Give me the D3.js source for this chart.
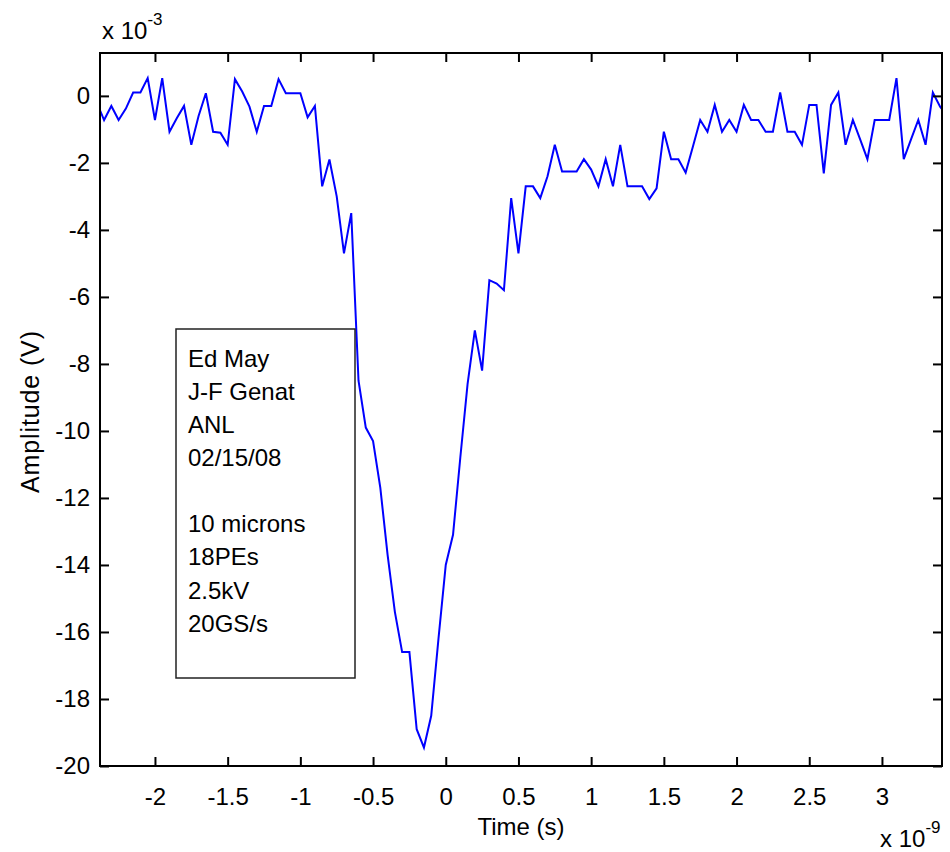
<!DOCTYPE html>
<meta charset="utf-8">
<body style="margin:0;background:#fff">
<script src="https://cdn.jsdelivr.net/npm/d3@7"></script>
<script>

    var width = 950,
        height = 852;

    // sample times (ns) and amplitudes (mV)
    var times = [-2.40, -2.35, -2.30, -2.25, -2.20, -2.15, -2.10, -2.05, -2.00, -1.95,
        -1.90, -1.85, -1.80, -1.75, -1.70, -1.65, -1.60, -1.55, -1.50, -1.45,
        -1.40, -1.35, -1.30, -1.25, -1.20, -1.15, -1.10, -1.05, -1.00, -0.95,
        -0.90, -0.85, -0.80, -0.75, -0.70, -0.65, -0.60, -0.55, -0.50, -0.45,
        -0.40, -0.35, -0.30, -0.25, -0.20, -0.15, -0.10, -0.05, 0.00, 0.05,
        0.10, 0.15, 0.20, 0.25, 0.30, 0.35, 0.40, 0.45, 0.50, 0.55,
        0.60, 0.65, 0.70, 0.75, 0.80, 0.85, 0.90, 0.95, 1.00, 1.05,
        1.10, 1.15, 1.20, 1.25, 1.30, 1.35, 1.40, 1.45, 1.50, 1.55,
        1.60, 1.65, 1.70, 1.75, 1.80, 1.85, 1.90, 1.95, 2.00, 2.05,
        2.10, 2.15, 2.20, 2.25, 2.30, 2.35, 2.40, 2.45, 2.50, 2.55,
        2.60, 2.65, 2.70, 2.75, 2.80, 2.85, 2.90, 2.95, 3.00, 3.05,
        3.10, 3.15, 3.20, 3.25, 3.30, 3.35, 3.40, 3.45];

    var amplitude = [-0.2, -0.72, -0.3, -0.72, -0.38, 0.1, 0.1, 0.53, -0.72, 0.53,
        -1.07, -0.67, -0.3, -1.46, -0.6, 0.08, -1.07, -1.1, -1.46, 0.5,
        0.13, -0.32, -1.07, -0.3, -0.3, 0.5, 0.08, 0.08, 0.08, -0.64,
        -0.3, -2.7, -1.9, -3.0, -4.7, -3.5, -8.5, -9.9, -10.3, -11.7,
        -13.7, -15.4, -16.6, -16.6, -18.9, -19.45, -18.5, -16.2, -14.0, -13.1,
        -10.8, -8.6, -7.0, -8.2, -5.5, -5.6, -5.8, -3.05, -4.7, -2.7,
        -2.7, -3.05, -2.4, -1.46, -2.26, -2.26, -2.26, -1.89, -2.2, -2.7,
        -1.89, -2.7, -1.46, -2.7, -2.7, -2.7, -3.08, -2.76, -1.07, -1.89,
        -1.89, -2.29, -1.51, -0.72, -1.07, -0.27, -1.07, -0.72, -1.07, -0.27,
        -0.72, -0.72, -1.07, -1.07, 0.1, -1.07, -1.07, -1.46, -0.27, -0.27,
        -2.31, -0.27, 0.1, -1.46, -0.72, -1.3, -1.89, -0.72, -0.72, -0.72,
        0.53, -1.89, -1.3, -0.72, -1.46, 0.1, -0.32, -0.6];

    var xTicks = [-2, -1.5, -1, -0.5, 0, 0.5, 1, 1.5, 2, 2.5, 3];
    var yTicks = [0, -2, -4, -6, -8, -10, -12, -14, -16, -18, -20];

    var noteLines = ["Ed May", "J-F Genat", "ANL", "02/15/08", "",
        "10 microns", "18PEs", "2.5kV", "20GS/s"];

    var font = "Arial, 'Liberation Sans', sans-serif";

    var plotLeft = 100, plotRight = 942, plotTop = 53, plotBottom = 766;

    var x = d3.scaleLinear().domain([-2.378, 3.413]).range([plotLeft, plotRight]);
    var y = d3.scaleLinear().domain([-20, 1.28]).range([plotBottom, plotTop]);

    var svg = d3.select("body").append("svg")
            .attr("width", width)
            .attr("height", height)
            .style("font-family", font);

    svg.append("defs").append("clipPath").attr("id", "plotclip")
        .append("rect")
        .attr("x", plotLeft).attr("y", plotTop)
        .attr("width", plotRight - plotLeft).attr("height", plotBottom - plotTop);

    // trace
    var line = d3.line()
            .x(function(d, i) { return x(times[i]); })
            .y(function(d) { return y(d); });

    svg.append("path")
        .datum(amplitude)
        .attr("clip-path", "url(#plotclip)")
        .attr("fill", "none")
        .attr("stroke", "#0000ff")
        .attr("stroke-width", 2)
        .attr("d", line);

    // axes, ticks pointing inwards on all four sides
    function styleAxis(g) {
        g.select(".domain").remove();
        g.selectAll(".tick line").attr("stroke", "#000").attr("stroke-width", 2);
        g.selectAll(".tick text")
            .attr("fill", "#000")
            .style("font-size", "24px")
            .style("font-family", font);
    }

    svg.append("g")
        .attr("transform", "translate(0," + plotBottom + ")")
        .call(d3.axisBottom(x).tickValues(xTicks).tickSizeInner(-9).tickSizeOuter(0)
            .tickPadding(22).tickFormat(String))
        .call(styleAxis);

    svg.append("g")
        .attr("transform", "translate(0," + plotTop + ")")
        .call(d3.axisTop(x).tickValues(xTicks).tickSizeInner(-9).tickSizeOuter(0)
            .tickFormat(""))
        .call(styleAxis);

    svg.append("g")
        .attr("transform", "translate(" + plotLeft + ",0)")
        .call(d3.axisLeft(y).tickValues(yTicks).tickSizeInner(-9).tickSizeOuter(0)
            .tickPadding(10).tickFormat(String))
        .call(styleAxis);

    svg.append("g")
        .attr("transform", "translate(" + plotRight + ",0)")
        .call(d3.axisRight(y).tickValues(yTicks).tickSizeInner(-9).tickSizeOuter(0)
            .tickFormat(""))
        .call(styleAxis);

    svg.append("rect")
        .attr("x", plotLeft).attr("y", plotTop)
        .attr("width", plotRight - plotLeft).attr("height", plotBottom - plotTop)
        .attr("fill", "none")
        .attr("stroke", "#000")
        .attr("stroke-width", 2);

    // axis labels
    svg.append("text")
        .attr("x", (plotLeft + plotRight) / 2)
        .attr("y", 835)
        .attr("text-anchor", "middle")
        .style("font-size", "24px")
        .text("Time (s)");

    svg.append("text")
        .attr("transform", "translate(39,412) rotate(-90)")
        .attr("text-anchor", "middle")
        .attr("textLength", 162)
        .style("font-size", "25px")
        .text("Amplitude (V)");

    // exponent labels
    function exponent(xPos, yPos, power) {
        var t = svg.append("text")
            .attr("x", xPos).attr("y", yPos)
            .style("font-size", "24px");
        t.append("tspan").text("x 10");
        t.append("tspan")
            .attr("dy", -14)
            .style("font-size", "17px")
            .text(power);
    }
    exponent(102, 39, "-3");
    exponent(880, 847, "-9");

    // note box
    svg.append("rect")
        .attr("x", 176).attr("y", 329)
        .attr("width", 179).attr("height", 349)
        .attr("fill", "#fff")
        .attr("stroke", "#222")
        .attr("stroke-width", 1.5);

    svg.append("g").selectAll("text")
        .data(noteLines)
        .enter().append("text")
        .attr("x", 188)
        .attr("y", function(d, i) { return 366.5 + i * 33.15; })
        .style("font-size", "24px")
        .text(function(d) { return d; });

</script>
